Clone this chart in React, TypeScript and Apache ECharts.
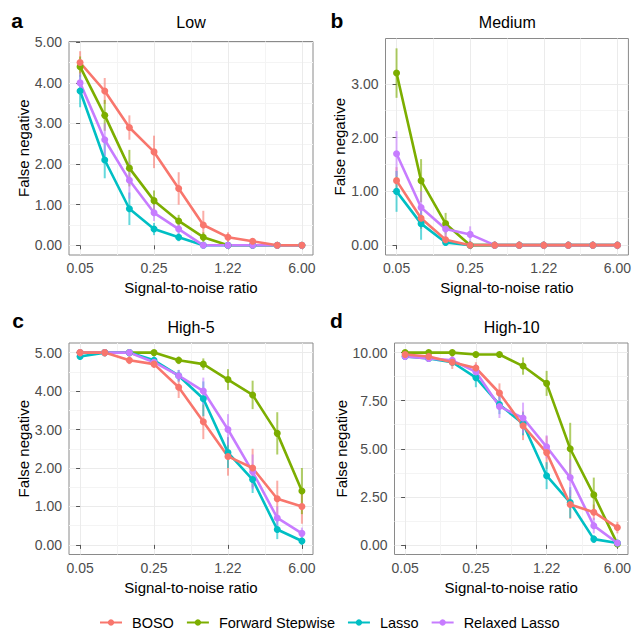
import React, { useEffect, useRef } from "react";
import * as echarts from "echarts";

// ---------- data ----------
const snrLabels = ["0.05", "0.09", "0.14", "0.25", "0.42", "0.71", "1.22", "2.07", "3.52", "6.00"];
const xTickIdx = [0, 3, 6, 9];
const xMinorIdx = [1.5, 4.5, 7.5];
const methods = ["BOSO", "Forward Stepwise", "Lasso", "Relaxed Lasso"];
const methodColors = ["#F8766D", "#7CAE00", "#00BFC4", "#C77CFF"];
const panelTitles = ["Low", "Medium", "High-5", "High-10"];
const panelLetters = ["a", "b", "c", "d"];

// Low
const lowBOSO = [4.5, 3.8, 2.9, 2.3, 1.4, 0.5, 0.2, 0.1, 0, 0];
const lowBOSOErr = [0.28, 0.32, 0.3, 0.4, 0.4, 0.35, 0.12, 0.08, 0, 0];
const lowFS = [4.4, 3.2, 1.9, 1.1, 0.6, 0.2, 0, 0, 0, 0];
const lowFSErr = [0.25, 0.38, 0.45, 0.25, 0.15, 0.12, 0, 0, 0, 0];
const lowLasso = [3.8, 2.1, 0.9, 0.4, 0.2, 0, 0, 0, 0, 0];
const lowLassoErr = [0.4, 0.45, 0.4, 0.15, 0.1, 0, 0, 0, 0, 0];
const lowRL = [4.0, 2.6, 1.6, 0.8, 0.4, 0, 0, 0, 0, 0];
const lowRLErr = [0.25, 0.4, 0.45, 0.2, 0.12, 0, 0, 0, 0, 0];

// Medium
const medBOSO = [1.2, 0.5, 0.1, 0, 0, 0, 0, 0, 0, 0];
const medBOSOErr = [0.25, 0.2, 0.1, 0, 0, 0, 0, 0, 0, 0];
const medFS = [3.2, 1.2, 0.4, 0, 0, 0, 0, 0, 0, 0];
const medFSErr = [0.46, 0.4, 0.2, 0, 0, 0, 0, 0, 0, 0];
const medLasso = [1.0, 0.4, 0.05, 0, 0, 0, 0, 0, 0, 0];
const medLassoErr = [0.38, 0.3, 0.05, 0, 0, 0, 0, 0, 0, 0];
const medRL = [1.7, 0.7, 0.3, 0.2, 0, 0, 0, 0, 0, 0];
const medRLErr = [0.42, 0.3, 0.15, 0.15, 0, 0, 0, 0, 0, 0];

// High-5
const h5BOSO = [5.0, 5.0, 4.8, 4.7, 4.1, 3.2, 2.3, 2.0, 1.2, 1.0];
const h5BOSOErr = [0, 0, 0.1, 0.1, 0.28, 0.45, 0.5, 0.5, 0.47, 0.45];
const h5FS = [5.0, 5.0, 5.0, 5.0, 4.8, 4.7, 4.3, 3.9, 2.9, 1.4];
const h5FSErr = [0, 0, 0, 0, 0.1, 0.15, 0.27, 0.37, 0.55, 0.6];
const h5Lasso = [4.9, 5.0, 5.0, 4.8, 4.4, 3.8, 2.4, 1.7, 0.4, 0.1];
const h5LassoErr = [0.05, 0, 0, 0.1, 0.15, 0.45, 0.4, 0.35, 0.25, 0.1];
const h5RL = [5.0, 5.0, 5.0, 4.75, 4.4, 4.0, 3.0, 1.9, 0.7, 0.3];
const h5RLErr = [0, 0, 0, 0.1, 0.15, 0.35, 0.4, 0.45, 0.3, 0.15];

// High-10
const h10BOSO = [9.9, 9.8, 9.5, 9.2, 7.9, 6.2, 4.8, 2.1, 1.7, 0.9];
const h10BOSOErr = [0.1, 0.15, 0.35, 0.3, 0.5, 0.75, 0.85, 0.75, 0.4, 0.3];
const h10FS = [10.0, 10.0, 10.0, 9.9, 9.9, 9.3, 8.4, 5.0, 2.6, 0.05];
const h10FSErr = [0, 0, 0, 0.05, 0.05, 0.45, 0.65, 1.35, 0.9, 0.1];
const h10Lasso = [9.8, 9.7, 9.5, 8.7, 7.3, 6.3, 3.6, 2.2, 0.3, 0.1];
const h10LassoErr = [0.1, 0.1, 0.2, 0.5, 0.5, 0.6, 0.7, 0.8, 0.2, 0.1];
const h10RL = [9.8, 9.7, 9.6, 9.0, 7.2, 6.6, 5.1, 3.5, 1.0, 0.1];
const h10RLErr = [0.1, 0.1, 0.2, 0.4, 0.6, 0.8, 0.6, 0.95, 0.4, 0.1];

const yTicksLow = [0, 1, 2, 3, 4, 5];
const yTicksMed = [0, 1, 2, 3];
const yTicksH5 = [0, 1, 2, 3, 4, 5];
const yTicksH10 = [0, 2.5, 5, 7.5, 10];

// ---------- layout ----------
const FONT = "'Liberation Sans', Arial, sans-serif";
const gridRects = [
  { left: 69, top: 41.5, width: 244, height: 213.5 },
  { left: 385.5, top: 38.5, width: 243.5, height: 216.5 },
  { left: 69, top: 343, width: 244, height: 211.5 },
  { left: 394.5, top: 343, width: 234.5, height: 211.5 },
];
const yNameGaps = [38, 38, 38, 46];
const letterPos = [
  [17, 20.5],
  [337, 20.5],
  [18, 320],
  [336.5, 320],
];
const titleY = [22.7, 22.7, 327.7, 327.7];

function buildOption() {
  const values = [
    [lowBOSO, lowFS, lowLasso, lowRL],
    [medBOSO, medFS, medLasso, medRL],
    [h5BOSO, h5FS, h5Lasso, h5RL],
    [h10BOSO, h10FS, h10Lasso, h10RL],
  ];
  const errs = [
    [lowBOSOErr, lowFSErr, lowLassoErr, lowRLErr],
    [medBOSOErr, medFSErr, medLassoErr, medRLErr],
    [h5BOSOErr, h5FSErr, h5LassoErr, h5RLErr],
    [h10BOSOErr, h10FSErr, h10LassoErr, h10RLErr],
  ];
  const yTicks = [yTicksLow, yTicksMed, yTicksH5, yTicksH10];

  const grid: any[] = [];
  const xAxis: any[] = [];
  const yAxis: any[] = [];
  const series: any[] = [];
  const graphic: any[] = [];

  for (let p = 0; p < 4; p++) {
    const r = gridRects[p];
    grid.push({
      ...r,
      show: true,
      borderColor: "#8a8a8a",
      borderWidth: 1,
      backgroundColor: "transparent",
      containLabel: false,
    });

    // y range with ggplot-like 5% expansion of data (incl. error bars)
    let lo = Infinity;
    let hi = -Infinity;
    for (let m = 0; m < 4; m++) {
      values[p][m].forEach((v, i) => {
        const e = errs[p][m][i];
        lo = Math.min(lo, Math.max(0, v - e));
        hi = Math.max(hi, v + e);
      });
    }
    const pad = (hi - lo) * 0.05;
    const yMin = lo - pad;
    const yMax = hi + pad;
    const yt = yTicks[p];
    const ym: number[] = [];
    for (let i = 0; i < yt.length - 1; i++) ym.push((yt[i] + yt[i + 1]) / 2);

    xAxis.push({
      type: "value",
      gridIndex: p,
      min: -0.45,
      max: 9.45,
      position: "bottom",
      axisLine: { show: false },
      axisTick: { show: true, customValues: xTickIdx, length: 4, lineStyle: { color: "#555", width: 1 } },
      axisLabel: {
        customValues: xTickIdx,
        formatter: (v: number) => snrLabels[Math.round(v)],
        color: "#4D4D4D",
        fontSize: 14,
        fontFamily: FONT,
        margin: 6,
      },
      splitLine: { show: true, lineStyle: { color: "#EBEBEB", width: 1 } },
      name: "Signal-to-noise ratio",
      nameLocation: "middle",
      nameGap: 25,
      nameTextStyle: { color: "#000", fontSize: 15, fontFamily: FONT },
    });
    xAxis.push({
      type: "value",
      gridIndex: p,
      min: -0.45,
      max: 9.45,
      position: "top",
      axisLine: { show: false },
      axisTick: { show: false, customValues: xMinorIdx },
      axisLabel: { show: false, customValues: xMinorIdx },
      splitLine: { show: true, lineStyle: { color: "#F4F4F4", width: 1 } },
    });
    yAxis.push({
      type: "value",
      gridIndex: p,
      min: yMin,
      max: yMax,
      position: "left",
      axisLine: { show: false },
      axisTick: { show: true, customValues: yt, length: 4, lineStyle: { color: "#555", width: 1 } },
      axisLabel: {
        customValues: yt,
        formatter: (v: number) => v.toFixed(2),
        color: "#4D4D4D",
        fontSize: 14,
        fontFamily: FONT,
        margin: 7,
      },
      splitLine: { show: true, lineStyle: { color: "#EBEBEB", width: 1 } },
      name: "False negative",
      nameLocation: "middle",
      nameGap: yNameGaps[p],
      nameRotate: 90,
      nameTextStyle: { color: "#000", fontSize: 15, fontFamily: FONT },
    });
    yAxis.push({
      type: "value",
      gridIndex: p,
      min: yMin,
      max: yMax,
      position: "right",
      axisLine: { show: false },
      axisTick: { show: false, customValues: ym },
      axisLabel: { show: false, customValues: ym },
      splitLine: { show: true, lineStyle: { color: "#F4F4F4", width: 1 } },
    });

    // error bars
    for (let m = 0; m < 4; m++) {
      const color = methodColors[m];
      const data = values[p][m].map((v, i) => [i, Math.max(0, v - errs[p][m][i]), v + errs[p][m][i]]);
      series.push({
        type: "custom",
        name: methods[m] + " error",
        xAxisIndex: 2 * p,
        yAxisIndex: 2 * p,
        z: 2,
        encode: { x: 0, y: [1, 2] },
        data,
        renderItem: (params: any, api: any) => {
          const x = api.value(0);
          const a = api.coord([x, api.value(1)]);
          const b = api.coord([x, api.value(2)]);
          return {
            type: "line",
            shape: { x1: a[0], y1: a[1], x2: b[0], y2: b[1] },
            style: { stroke: color, lineWidth: 2, opacity: 0.6 },
          };
        },
      });
    }
    // lines (BOSO drawn last = on top)
    const order = [1, 2, 3, 0];
    for (const m of order) {
      series.push({
        type: "line",
        name: methods[m],
        xAxisIndex: 2 * p,
        yAxisIndex: 2 * p,
        z: 3,
        data: values[p][m].map((v, i) => [i, v]),
        symbol: "circle",
        symbolSize: 7,
        showSymbol: true,
        itemStyle: { color: methodColors[m] },
        lineStyle: { color: methodColors[m], width: 2.6 },
        emphasis: { disabled: true },
      });
    }

    graphic.push({
      type: "text",
      x: r.left + r.width / 2,
      y: titleY[p],
      style: {
        text: panelTitles[p],
        fill: "#000",
        font: `16px ${FONT}`,
        textAlign: "center",
        textVerticalAlign: "middle",
      },
    });
    graphic.push({
      type: "text",
      x: letterPos[p][0],
      y: letterPos[p][1],
      style: {
        text: panelLetters[p],
        fill: "#000",
        font: `bold 21px ${FONT}`,
        textAlign: "center",
        textVerticalAlign: "middle",
      },
    });
  }

  return {
    animation: false,
    backgroundColor: "#fff",
    grid,
    xAxis,
    yAxis,
    series,
    graphic,
    legend: {
      data: methods,
      left: 99,
      top: 615,
      padding: 0,
      itemWidth: 22,
      itemHeight: 8,
      itemGap: 12,
      textStyle: { color: "#000", fontSize: 14.5, fontFamily: FONT, padding: [0, 0, 0, 5] },
    },
  };
}

export default function App() {
  const ref = useRef<HTMLDivElement>(null);
  useEffect(() => {
    if (!ref.current) return;
    const chart = echarts.init(ref.current, undefined, { renderer: "svg" });
    chart.setOption(buildOption() as any);
    return () => chart.dispose();
  }, []);
  return (
    <div
      ref={ref}
      style={{ position: "fixed", left: 0, top: 0, width: 634, height: 629, background: "#fff" }}
    />
  );
}
